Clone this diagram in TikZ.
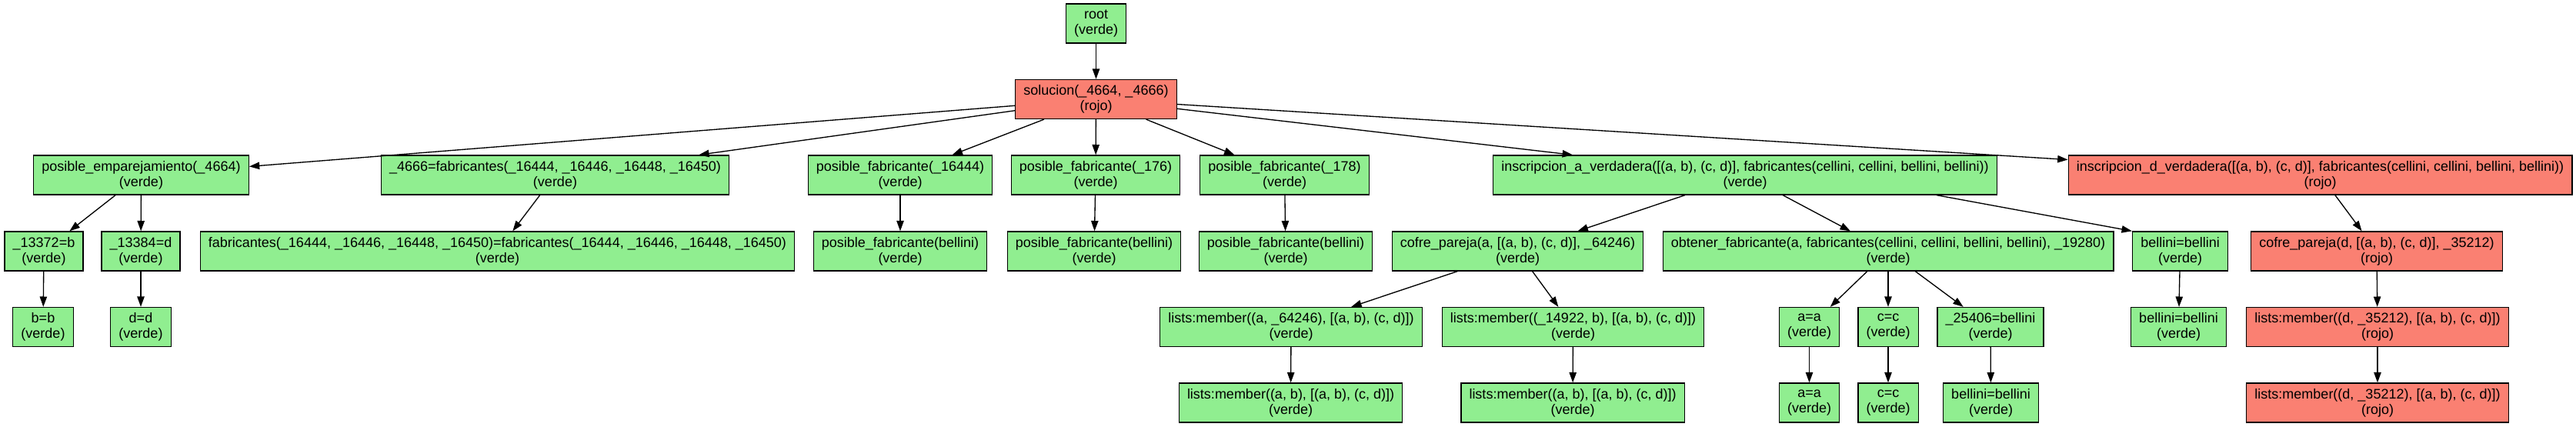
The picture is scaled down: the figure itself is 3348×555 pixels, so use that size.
\documentclass[tikz,border=0pt]{standalone}
\usepackage{fontspec}
\setmainfont{Liberation Sans}
\usepackage{xcolor}
\usepackage{tikz}
\usetikzlibrary{arrows.meta}
\definecolor{Verde}{HTML}{90EE90}
\definecolor{Rojo}{HTML}{FA8072}

\begin{document}
\begin{tikzpicture}[
  x=0.75pt, y=-0.75pt,
  nd/.style={rectangle, draw=black, line width=1pt, inner xsep=8pt, inner ysep=1pt,
             minimum height=38.25pt, align=center,
             font={\fontsize{13.5}{15}\selectfont}},
  ok/.style={nd, fill=Verde},
  ko/.style={nd, fill=Rojo},
  eg/.style={-{Triangle[length=10pt, width=7pt]}, line width=1pt}
]
  \useasboundingbox (0,0) rectangle (3348,555);

  % ---- raiz ----
  \node[ok] (root) at (1424.5,30.5) {root\\(verde)};
  \node[ko] (sol)  at (1424.5,129)  {solucion(\_4664, \_4666)\\(rojo)};

  % ---- nivel 2 ----
  \node[ok] (pe)  at (183.5,227.5)  {posible\_emparejamiento(\_4664)\\(verde)};
  \node[ok] (fab) at (721.5,227.5)  {\_4666=fabricantes(\_16444, \_16446, \_16448, \_16450)\\(verde)};
  \node[ok] (pf1) at (1170,227.5)   {posible\_fabricante(\_16444)\\(verde)};
  \node[ok] (pf2) at (1424,227.5)   {posible\_fabricante(\_176)\\(verde)};
  \node[ok] (pf3) at (1669.5,227.5) {posible\_fabricante(\_178)\\(verde)};
  \node[ok] (ia)  at (2268,227.5)   {inscripcion\_a\_verdadera([(a, b), (c, d)], fabricantes(cellini, cellini, bellini, bellini))\\(verde)};
  \node[ko] (id)  at (3015.5,227.5) {inscripcion\_d\_verdadera([(a, b), (c, d)], fabricantes(cellini, cellini, bellini, bellini))\\(rojo)};

  % ---- nivel 3 ----
  \node[ok] (e1)  at (57,326.5)     {\_13372=b\\(verde)};
  \node[ok] (e2)  at (183,326.5)    {\_13384=d\\(verde)};
  \node[ok] (ff)  at (646.5,326.5)  {fabricantes(\_16444, \_16446, \_16448, \_16450)=fabricantes(\_16444, \_16446, \_16448, \_16450)\\(verde)};
  \node[ok] (pb1) at (1170,326.5)   {posible\_fabricante(bellini)\\(verde)};
  \node[ok] (pb2) at (1422,326.5)   {posible\_fabricante(bellini)\\(verde)};
  \node[ok] (pb3) at (1671,326.5)   {posible\_fabricante(bellini)\\(verde)};
  \node[ok] (cpa) at (1972.5,326.5) {cofre\_pareja(a, [(a, b), (c, d)], \_64246)\\(verde)};
  \node[ok] (obt) at (2454,326.5)   {obtener\_fabricante(a, fabricantes(cellini, cellini, bellini, bellini), \_19280)\\(verde)};
  \node[ok] (bb3) at (2833.5,326.5) {bellini=bellini\\(verde)};
  \node[ko] (cpd) at (3089,326.5)   {cofre\_pareja(d, [(a, b), (c, d)], \_35212)\\(rojo)};

  % ---- nivel 4 ----
  \node[ok] (bb)  at (56,425)       {b=b\\(verde)};
  \node[ok] (dd)  at (183,425)      {d=d\\(verde)};
  \node[ok] (lm1) at (1678,425)     {lists:member((a, \_64246), [(a, b), (c, d)])\\(verde)};
  \node[ok] (lm2) at (2044.5,425)   {lists:member((\_14922, b), [(a, b), (c, d)])\\(verde)};
  \node[ok] (aa)  at (2351.5,425)   {a=a\\(verde)};
  \node[ok] (cc)  at (2454,425)     {c=c\\(verde)};
  \node[ok] (b25) at (2587,425)     {\_25406=bellini\\(verde)};
  \node[ok] (bb4) at (2831.5,425)   {bellini=bellini\\(verde)};
  \node[ko] (lmd) at (3090,425)     {lists:member((d, \_35212), [(a, b), (c, d)])\\(rojo)};

  % ---- nivel 5 ----
  \node[ok] (la1) at (1677.5,523.5) {lists:member((a, b), [(a, b), (c, d)])\\(verde)};
  \node[ok] (la2) at (2044,523.5)   {lists:member((a, b), [(a, b), (c, d)])\\(verde)};
  \node[ok] (aa2) at (2351.5,523.5) {a=a\\(verde)};
  \node[ok] (cc2) at (2454,523.5)   {c=c\\(verde)};
  \node[ok] (bb5) at (2587.5,523.5) {bellini=bellini\\(verde)};
  \node[ko] (ld2) at (3090,523.5)   {lists:member((d, \_35212), [(a, b), (c, d)])\\(rojo)};

  % ---- aristas ----
  \draw[eg] (root)--(sol);
  \draw[eg] (sol)--(pe); \draw[eg] (sol)--(fab); \draw[eg] (sol)--(pf1);
  \draw[eg] (sol)--(pf2); \draw[eg] (sol)--(pf3); \draw[eg] (sol)--(ia);
  \draw[eg] (sol)--(id);
  \draw[eg] (pe)--(e1); \draw[eg] (pe)--(e2);
  \draw[eg] (e1)--(bb); \draw[eg] (e2)--(dd);
  \draw[eg] (fab)--(ff);
  \draw[eg] (pf1)--(pb1); \draw[eg] (pf2)--(pb2); \draw[eg] (pf3)--(pb3);
  \draw[eg] (ia)--(cpa); \draw[eg] (ia)--(obt);
  \draw[eg] (ia.-6.5)--(bb3.north west);
  \draw[eg] (cpa)--(lm1); \draw[eg] (cpa)--(lm2);
  \draw[eg] (lm1)--(la1); \draw[eg] (lm2)--(la2);
  \draw[eg] (obt)--(aa); \draw[eg] (obt)--(cc); \draw[eg] (obt)--(b25);
  \draw[eg] (aa)--(aa2); \draw[eg] (cc)--(cc2); \draw[eg] (b25)--(bb5);
  \draw[eg] (bb3)--(bb4);
  \draw[eg] (id)--(cpd); \draw[eg] (cpd)--(lmd); \draw[eg] (lmd)--(ld2);
\end{tikzpicture}
\end{document}
